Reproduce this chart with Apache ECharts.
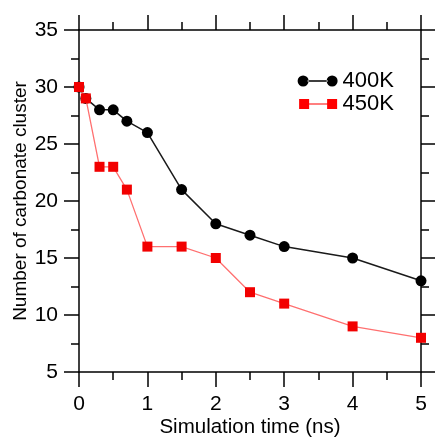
<!DOCTYPE html>
<html>
<head>
<meta charset="utf-8">
<script src="https://cdn.jsdelivr.net/npm/echarts@6/dist/echarts.min.js"></script>
<style>
    html, body { margin: 0; padding: 0; background: #ffffff; }
    #chart { width: 435px; height: 437px; }
</style>
</head>
<body>
<div id="chart"></div>
<script>
// simulation time (ns)
var timeNs = [0, 0.1, 0.3, 0.5, 0.7, 1, 1.5, 2, 2.5, 3, 4, 5];
// number of carbonate cluster
var count400K = [30, 29, 28, 28, 27, 26, 21, 18, 17, 16, 15, 13];
var count450K = [30, 29, 23, 23, 21, 16, 16, 15, 12, 11, 9, 8];
var seriesNames = ['400K', '450K'];

function pairs(xs, ys) {
    var out = [];
    for (var i = 0; i < xs.length; i++) {
        out.push([xs[i], ys[i]]);
    }
    return out;
}

var fontFamily = 'Liberation Sans, Arial, sans-serif';

// legend icons: marker - line - marker
var circleIcon = 'path://M0,6a5.5,5.5 0 1,0 11,0a5.5,5.5 0 1,0 -11,0Z' +
    'M29,6a5.5,5.5 0 1,0 11,0a5.5,5.5 0 1,0 -11,0Z' +
    'M10,5.3L30,5.3L30,6.7L10,6.7Z' +
    'M0,0L0.01,0L0.01,12L0,12Z';
var squareIcon = 'path://M1,1L11,1L11,11L1,11Z' +
    'M29,1L39,1L39,11L29,11Z' +
    'M11,5.5L29,5.5L29,6.5L11,6.5Z' +
    'M0,0L0.01,0L0.01,12L0,12Z';

var axisLineStyle = { color: '#000000', width: 1.5 };

function valueAxis(opts) {
    var axis = {
        type: 'value',
        min: opts.min,
        max: opts.max,
        interval: opts.interval,
        position: opts.position,
        axisLine: { show: true, onZero: false, lineStyle: axisLineStyle },
        axisTick: { show: true, inside: false, length: 15, lineStyle: axisLineStyle },
        minorTick: { show: true, splitNumber: 2, length: 8, lineStyle: { color: '#000000', width: 1.5 } },
        splitLine: { show: false },
        axisLabel: {
            show: opts.labels,
            margin: opts.margin,
            color: '#000000',
            fontSize: 21,
            fontFamily: fontFamily
        }
    };
    if (opts.name) {
        axis.name = opts.name;
        axis.nameLocation = 'middle';
        axis.nameGap = opts.nameGap;
        axis.nameMoveOverlap = false;
        axis.nameTextStyle = { color: '#000000', fontSize: opts.nameSize, fontFamily: fontFamily };
    }
    return axis;
}

var chart = echarts.init(document.getElementById('chart'), null, { renderer: 'canvas' });

var options = {
    animation: false,
    backgroundColor: '#ffffff',
    grid: { left: 79, right: 14, top: 30, bottom: 65, containLabel: false, outerBoundsMode: 'none' },
    legend: {
        right: 36,
        top: 65,
        orient: 'vertical',
        itemWidth: 40,
        itemHeight: 12,
        itemGap: 1,
        textStyle: { color: '#000000', fontSize: 22, fontFamily: fontFamily },
        data: [
            { name: seriesNames[0], icon: circleIcon, itemStyle: { color: '#000000' } },
            { name: seriesNames[1], icon: squareIcon, itemStyle: { color: '#ff0000' } }
        ]
    },
    xAxis: [
        valueAxis({ min: 0, max: 5, interval: 1, position: 'bottom', labels: true, margin: 22,
            name: 'Simulation time (ns)', nameGap: 45, nameSize: 20.5 }),
        valueAxis({ min: 0, max: 5, interval: 1, position: 'top', labels: false })
    ],
    yAxis: [
        valueAxis({ min: 5, max: 35, interval: 5, position: 'left', labels: true, margin: 21,
            name: 'Number of carbonate cluster', nameGap: 49, nameSize: 19 }),
        valueAxis({ min: 5, max: 35, interval: 5, position: 'right', labels: false })
    ],
    series: [
        {
            name: seriesNames[0],
            type: 'line',
            data: pairs(timeNs, count400K),
            symbol: 'circle',
            symbolSize: 11,
            itemStyle: { color: '#000000' },
            lineStyle: { color: '#1a1a1a', width: 1.5 },
            z: 2
        },
        {
            name: seriesNames[1],
            type: 'line',
            data: pairs(timeNs, count450K),
            symbol: 'rect',
            symbolSize: 10,
            itemStyle: { color: '#f20000' },
            lineStyle: { color: '#ff7070', width: 1.3 },
            z: 3
        }
    ]
};

chart.setOption(options, true);
window.onresize = function () {
    chart.resize();
};
</script>
</body>
</html>
